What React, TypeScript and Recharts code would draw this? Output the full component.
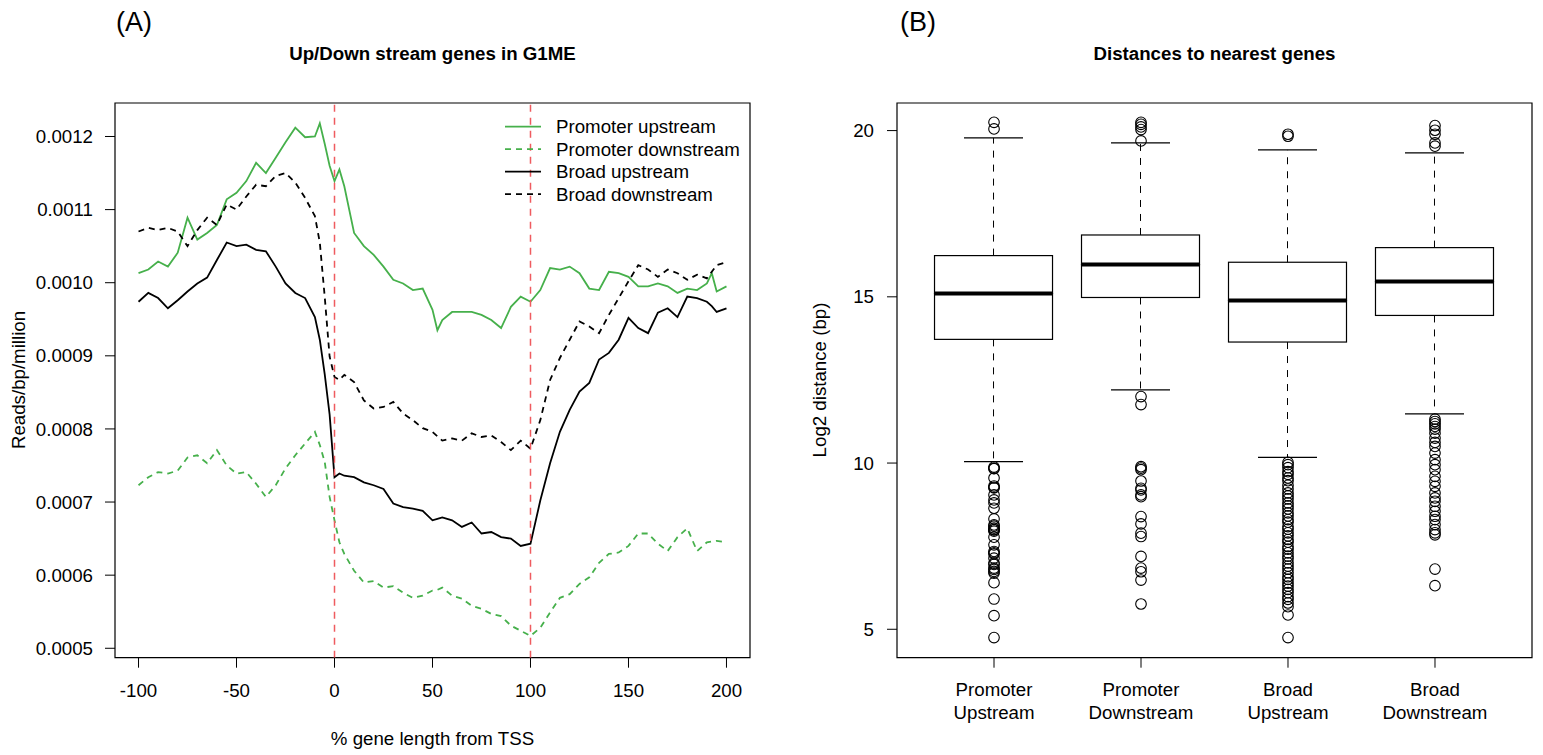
import {
  LineChart, Line, ComposedChart, Bar, Scatter, XAxis, YAxis,
  ReferenceArea, ReferenceLine,
} from 'recharts'

// ─── Panel A data: reads/bp/million along % gene length from TSS ─────────────

const xPos = [
  -100, -95, -90, -85, -80, -75, -70, -65, -60, -55, -50, -45, -40, -35, -30, -25, -20, -15, -10, -7.5,
  -5, -2.5, 0, 2.5, 5, 10, 15, 20, 25, 30, 35, 40, 45, 50, 52.5, 55, 60, 65, 70, 75,
  80, 85, 90, 95, 100, 105, 110, 115, 120, 125, 130, 135, 140, 145, 150, 155, 160, 165, 170, 175,
  180, 185, 190, 192.5, 195, 200,
]

const promoterUp = [
  0.001013, 0.001018, 0.001029, 0.001022, 0.001041, 0.001089, 0.001059, 0.001068, 0.001079, 0.001114,
  0.001123, 0.001139, 0.001164, 0.00115, 0.001171, 0.001192, 0.001212, 0.001199, 0.0012, 0.001218,
  0.00119, 0.00116, 0.001139, 0.001155, 0.001132, 0.001068, 0.00105, 0.001038, 0.001022, 0.001004,
  0.000999, 0.00099, 0.000992, 0.000963, 0.000935, 0.000949, 0.00096, 0.00096, 0.00096, 0.000956,
  0.000949, 0.000938, 0.000967, 0.000981, 0.000974, 0.00099, 0.00102, 0.001018, 0.001022, 0.001013,
  0.000992, 0.00099, 0.001015, 0.001013, 0.001008, 0.000995, 0.000995, 0.000999, 0.000995, 0.000986,
  0.000992, 0.00099, 0.000999, 0.001013, 0.000988, 0.000995,
]

const promoterDown = [
  0.000723, 0.000734, 0.000741, 0.000739, 0.000743, 0.000761, 0.000764, 0.000753, 0.000771, 0.00075,
  0.000739, 0.000741, 0.000725, 0.000707, 0.000723, 0.000746, 0.000764, 0.00078, 0.000796, 0.000778,
  0.000755, 0.000707, 0.000675, 0.000645, 0.000629, 0.000606, 0.00059, 0.000592, 0.000583, 0.000585,
  0.000576, 0.000569, 0.000572, 0.000579, 0.00058, 0.000583, 0.000572, 0.000568, 0.000558, 0.000554,
  0.000547, 0.000544, 0.000531, 0.000524, 0.000517, 0.000528, 0.000549, 0.000569, 0.000574, 0.000588,
  0.000597, 0.000617, 0.000629, 0.000631, 0.00064, 0.000657, 0.000657, 0.000643, 0.000633, 0.000652,
  0.000664, 0.000633, 0.000645, 0.000646, 0.000647, 0.000645,
]

const broadUp = [
  0.000974, 0.000986, 0.000979, 0.000965, 0.000976, 0.000988, 0.000999, 0.001007, 0.001031, 0.001055,
  0.00105, 0.001052, 0.001045, 0.001043, 0.001022, 0.000999, 0.000986, 0.000979, 0.000953, 0.000922,
  0.000875, 0.00082, 0.000734, 0.000739, 0.000736, 0.000734, 0.000727, 0.000723, 0.000718, 0.000698,
  0.000693, 0.000691, 0.000688, 0.000675, 0.000677, 0.000679, 0.000675, 0.000666, 0.000672, 0.000657,
  0.000659, 0.000652, 0.00065, 0.00064, 0.000643, 0.000702, 0.000753, 0.000796, 0.000826, 0.000851,
  0.000863, 0.000895, 0.000904, 0.000922, 0.000952, 0.000938, 0.000931, 0.000959, 0.000965, 0.000953,
  0.000981, 0.000979, 0.000974, 0.000968, 0.00096, 0.000965,
]

const broadDown = [
  0.00107, 0.001075, 0.001072, 0.001075, 0.00107, 0.00105, 0.001072, 0.001089, 0.001079, 0.001107,
  0.0011, 0.001118, 0.001134, 0.001132, 0.001146, 0.00115, 0.001137, 0.001116, 0.001091, 0.001055,
  0.000981, 0.000899, 0.000871, 0.000867, 0.000874, 0.000864, 0.000839, 0.000828, 0.00083, 0.000837,
  0.000821, 0.000812, 0.000801, 0.000796, 0.00079, 0.000784, 0.000787, 0.000784, 0.000794, 0.000789,
  0.000791, 0.000782, 0.000771, 0.000784, 0.000773, 0.000812, 0.000867, 0.000897, 0.000922, 0.000947,
  0.00094, 0.000931, 0.000956, 0.000979, 0.001002, 0.001024, 0.001018, 0.001008, 0.001018, 0.001013,
  0.001004, 0.001011, 0.001006, 0.001015, 0.001024, 0.001028,
]

const xTicksA = [-100, -50, 0, 50, 100, 150, 200]
const yTicksA = [0.0005, 0.0006, 0.0007, 0.0008, 0.0009, 0.001, 0.0011, 0.0012]
const tssMarks = [0, 100]

// ─── Panel B data: log2 distance to nearest genes ───────────────────────────

const boxLabels = ['Promoter Upstream', 'Promoter Downstream', 'Broad Upstream', 'Broad Downstream']
const whiskerLow = [10.04, 12.2, 10.17, 11.48]
const quart1 = [13.72, 14.98, 13.64, 14.44]
const medians = [15.1, 15.97, 14.89, 15.46]
const quart3 = [16.24, 16.86, 16.04, 16.48]
const whiskerHigh = [19.78, 19.63, 19.42, 19.33]

const outPromUp = [
  20.25, 20.05, 9.88, 9.84, 9.83, 9.55, 9.31, 9.27, 9.25, 9.04, 8.89, 8.8, 8.64, 8.32, 8.14, 8.1, 8.04,
  8.0, 7.99, 7.95, 7.77, 7.54, 7.34, 7.3, 7.27, 7.14, 6.99, 6.95, 6.84, 6.8, 6.74, 6.69, 6.4, 5.91, 5.41, 4.75,
]
const outPromDown = [
  20.25, 20.19, 20.11, 20.03, 19.69, 12.0, 11.76, 9.89, 9.85, 9.8, 9.46, 9.24, 9.19, 9.04, 8.99, 8.39,
  8.17, 7.89, 7.79, 7.19, 6.84, 6.73, 6.48, 5.76,
]
const outBroadUp = [
  19.89, 19.83, 10.02, 9.95, 9.86, 9.74, 9.66, 9.55, 9.47, 9.33, 9.22, 9.1, 9.01, 8.92, 8.8, 8.71, 8.62,
  8.5, 8.41, 8.3, 8.22, 8.09, 8.01, 7.9, 7.81, 7.7, 7.62, 7.49, 7.41, 7.3, 7.2, 7.12, 7.0, 6.9, 6.81,
  6.7, 6.58, 6.5, 6.39, 6.3, 6.2, 6.1, 5.98, 5.9, 5.79, 5.68, 5.43, 4.75,
]
const outBroadDown = [
  20.15, 20.01, 19.89, 19.63, 19.53, 11.32, 11.25, 11.18, 11.1, 11.02, 10.9, 10.75, 10.62, 10.5, 10.3,
  10.1, 9.95, 9.8, 9.6, 9.45, 9.3, 9.1, 8.95, 8.85, 8.7, 8.55, 8.4, 8.3, 8.15, 8.0, 7.9, 7.84, 6.81, 6.31,
]
const outliers = [outPromUp, outPromDown, outBroadUp, outBroadDown]

const yTicksB = [5, 10, 15, 20]

// ─── Constants ───────────────────────────────────────────────────────────────

const FONT = "'Liberation Sans', Arial, Helvetica, sans-serif"
const FS = 18.7
const GREEN = '#46b04b'
const RED = '#ef5b5f'
const A_X = [-112, 212]
const A_Y = [0.0004871, 0.0012458]
const B_X = [0.34, 4.66]
const B_Y = [4.145, 20.83]

// ─── Built tables ────────────────────────────────────────────────────────────

const lineData = xPos.map((x, i) => ({
  x,
  promUp: promoterUp[i],
  promDown: promoterDown[i],
  broadUp: broadUp[i],
  broadDown: broadDown[i],
}))

const boxData = boxLabels.map((_, i) => ({
  x: i + 1,
  base: whiskerLow[i],
  lowW: quart1[i] - whiskerLow[i],
  lowBox: medians[i] - quart1[i],
  highBox: quart3[i] - medians[i],
  highW: whiskerHigh[i] - quart3[i],
}))

const outlierPoints = outliers.flatMap((vals, i) => vals.map((y) => ({ x: i + 1, y })))

const legendRows = [
  { label: 'Promoter upstream', color: GREEN, dash: undefined },
  { label: 'Promoter downstream', color: GREEN, dash: '6 5' },
  { label: 'Broad upstream', color: '#000', dash: undefined },
  { label: 'Broad downstream', color: '#000', dash: '6 5' },
]

// ─── Shapes / ticks ──────────────────────────────────────────────────────────

const tickStyle = { fill: '#000', fontSize: FS, fontFamily: FONT }

function XTickA({ x, y, payload }: any) {
  return (
    <text x={x} y={y} dy={27} textAnchor="middle" style={tickStyle}>
      {payload.value}
    </text>
  )
}

function XTickB({ x, y, payload }: any) {
  const parts = boxLabels[payload.value - 1].split(' ')
  return (
    <text x={x} y={y} textAnchor="middle" style={tickStyle}>
      <tspan x={x} dy={26.5}>{parts[0]}</tspan>
      <tspan x={x} dy={22.8}>{parts[1]}</tspan>
    </text>
  )
}

const Empty = () => null

function LowWhisker({ x, y, width, height }: any) {
  const cx = x + width / 2
  return (
    <g>
      <line x1={cx} x2={cx} y1={y} y2={y + height} stroke="#000" strokeDasharray="7 7" />
      <line x1={cx - width / 4} x2={cx + width / 4} y1={y + height} y2={y + height} stroke="#000" strokeWidth={1.2} />
    </g>
  )
}

function HighWhisker({ x, y, width, height }: any) {
  const cx = x + width / 2
  return (
    <g>
      <line x1={cx} x2={cx} y1={y + height} y2={y} stroke="#000" strokeDasharray="7 7" />
      <line x1={cx - width / 4} x2={cx + width / 4} y1={y} y2={y} stroke="#000" strokeWidth={1.2} />
    </g>
  )
}

function LowBox({ x, y, width, height }: any) {
  return <rect x={x} y={y} width={width} height={height} fill="#fff" stroke="#000" strokeWidth={1.2} />
}

function HighBox({ x, y, width, height }: any) {
  return (
    <g>
      <rect x={x} y={y} width={width} height={height} fill="#fff" stroke="#000" strokeWidth={1.2} />
      <line x1={x} x2={x + width} y1={y + height} y2={y + height} stroke="#000" strokeWidth={4} />
    </g>
  )
}

function Ring({ cx, cy }: any) {
  return <circle cx={cx} cy={cy} r={5.3} fill="none" stroke="#000" strokeWidth={1.1} />
}

// ─── Component ───────────────────────────────────────────────────────────────

export default function App() {
  return (
    <div style={{ position: 'absolute', left: 0, top: 0, width: 1543, height: 755, background: '#fff', fontFamily: FONT }}>
      {/* (A) reads profile */}
      <div style={{ position: 'absolute', left: 0, top: 0 }}>
        <LineChart width={760} height={755} data={lineData} margin={{ top: 103, right: 10, bottom: 67.3, left: 55 }}>
          <XAxis
            type="number" dataKey="x" domain={A_X} ticks={xTicksA} allowDataOverflow interval={0}
            axisLine={false} tickSize={10} tickLine={{ stroke: '#000' }} height={30} tick={<XTickA />}
          />
          <YAxis
            type="number" domain={A_Y} ticks={yTicksA} allowDataOverflow interval={0} width={60}
            axisLine={false} tickSize={10} tickMargin={12} tickLine={{ stroke: '#000' }}
            tick={tickStyle} tickFormatter={(v: number) => v.toFixed(4)}
          />
          <Line type="linear" dataKey="promUp" stroke={GREEN} strokeWidth={1.8} dot={false} isAnimationActive={false} />
          <Line type="linear" dataKey="promDown" stroke={GREEN} strokeWidth={1.8} strokeDasharray="6 5" dot={false} isAnimationActive={false} />
          <Line type="linear" dataKey="broadUp" stroke="#000" strokeWidth={1.8} dot={false} isAnimationActive={false} />
          <Line type="linear" dataKey="broadDown" stroke="#000" strokeWidth={1.8} strokeDasharray="6 5" dot={false} isAnimationActive={false} />
          {tssMarks.map((m) => (
            <ReferenceLine key={m} x={m} stroke={RED} strokeWidth={1.5} strokeDasharray="7 6" />
          ))}
          <ReferenceArea x1={A_X[0]} x2={A_X[1]} y1={A_Y[0]} y2={A_Y[1]} fill="none" fillOpacity={0} stroke="#000" strokeWidth={1.2} />
        </LineChart>
      </div>

      {/* (B) distance boxplots */}
      <div style={{ position: 'absolute', left: 760, top: 0 }}>
        <ComposedChart width={783} height={755} data={boxData} margin={{ top: 103, right: 11, bottom: 67.3, left: 77 }}>
          <XAxis
            type="number" dataKey="x" domain={B_X} ticks={[1, 2, 3, 4]} allowDataOverflow interval={0}
            axisLine={false} tickSize={10} tickLine={{ stroke: '#000' }} height={30} tick={<XTickB />}
          />
          <YAxis
            type="number" domain={B_Y} ticks={yTicksB} allowDataOverflow interval={0} width={60}
            axisLine={false} tickSize={10} tickMargin={13} tickLine={{ stroke: '#000' }} tick={tickStyle}
          />
          <Bar dataKey="base" stackId="box" barSize={118} shape={<Empty />} isAnimationActive={false} />
          <Bar dataKey="lowW" stackId="box" barSize={118} shape={<LowWhisker />} isAnimationActive={false} />
          <Bar dataKey="lowBox" stackId="box" barSize={118} shape={<LowBox />} isAnimationActive={false} />
          <Bar dataKey="highBox" stackId="box" barSize={118} shape={<HighBox />} isAnimationActive={false} />
          <Bar dataKey="highW" stackId="box" barSize={118} shape={<HighWhisker />} isAnimationActive={false} />
          <Scatter data={outlierPoints} dataKey="y" shape={<Ring />} isAnimationActive={false} />
          <ReferenceArea x1={B_X[0]} x2={B_X[1]} y1={B_Y[0]} y2={B_Y[1]} fill="none" fillOpacity={0} stroke="#000" strokeWidth={1.2} />
        </ComposedChart>
      </div>

      {/* Titles, axis labels, legend */}
      <svg width={1543} height={755} style={{ position: 'absolute', left: 0, top: 0, pointerEvents: 'none' }}>
        <g fontFamily={FONT} fontSize={FS} fill="#000">
          <text x={116} y={31} fontSize={27}>(A)</text>
          <text x={432.5} y={60} textAnchor="middle" fontWeight="bold">Up/Down stream genes in G1ME</text>
          <text x={432.5} y={745} textAnchor="middle">% gene length from TSS</text>
          <text x={25} y={380} textAnchor="middle" transform="rotate(-90 25 380)">Reads/bp/million</text>

          <text x={900} y={31} fontSize={27}>(B)</text>
          <text x={1214.5} y={60} textAnchor="middle" fontWeight="bold">Distances to nearest genes</text>
          <text x={826} y={380} textAnchor="middle" transform="rotate(-90 826 380)">Log2 distance (bp)</text>

          {legendRows.map((r, i) => {
            const cy = 126.7 + i * 22.5
            return (
              <g key={r.label}>
                <line x1={505} x2={541} y1={cy} y2={cy} stroke={r.color} strokeWidth={1.8} strokeDasharray={r.dash} />
                <text x={556} y={cy} dy={6.6}>{r.label}</text>
              </g>
            )
          })}
        </g>
      </svg>
    </div>
  )
}
